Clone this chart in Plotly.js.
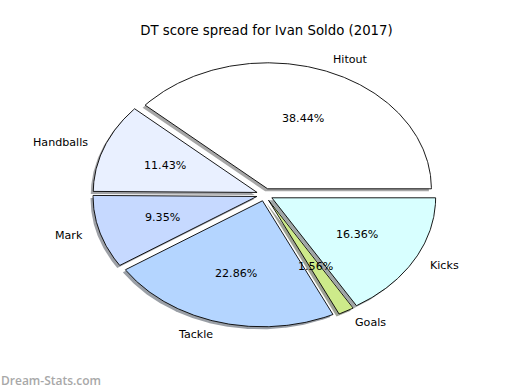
<!DOCTYPE html>
<html>
<head>
<meta charset="utf-8">
<script src="https://cdn.plot.ly/plotly-3.0.1.min.js"></script>
<style>html,body{margin:0;padding:0;background:#fff;}</style>
</head>
<body>
<div id="chart" style="width:520px;height:390px;"></div>
<script>
const labels = ['Hitout', 'Handballs', 'Mark', 'Tackle', 'Goals', 'Kicks'];
const values = [38.44, 11.43, 9.35, 22.86, 1.56, 16.36];
const colors = ['#ffffff', '#e9f0ff', '#c6d9ff', '#b4d5ff', '#cdea8a', '#d8ffff'];
const explode = [0.05, 0.05, 0.05, 0.05, 0.05, 0.05];
const chartTitle = 'DT score spread for Ivan Soldo (2017)';
const watermark = 'Dream-Stats.com';

const FONT = 'DejaVu Sans, sans-serif';
const total = values.reduce((a, b) => a + b, 0);
// pixel scale (for shadow offset conversion)
const SX = 163.8, SY = 126.0;
const shadowDx = -2.5 / SX, shadowDy = -2.5 / SY;

function shade(hex) {
  const r = parseInt(hex.slice(1, 3), 16), g = parseInt(hex.slice(3, 5), 16), b = parseInt(hex.slice(5, 7), 16);
  return 'rgba(' + Math.round(r * 0.3) + ',' + Math.round(g * 0.3) + ',' + Math.round(b * 0.3) + ',0.5)';
}

const wedges = [];
let cum = 0;
values.forEach((v, i) => {
  const t1 = 360 * cum / total;
  cum += v;
  const t2 = 360 * cum / total;
  const mid = (t1 + t2) / 2 * Math.PI / 180;
  const ex = explode[i] * Math.cos(mid), ey = explode[i] * Math.sin(mid);
  const xs = [ex], ys = [ey];
  const n = Math.max(4, Math.ceil((t2 - t1) / 0.5));
  for (let k = 0; k <= n; k++) {
    const a = (t1 + (t2 - t1) * k / n) * Math.PI / 180;
    xs.push(ex + Math.cos(a));
    ys.push(ey + Math.sin(a));
  }
  xs.push(ex); ys.push(ey);
  wedges.push({xs, ys, mid, ex, ey, i});
});

const traces = [];
// shadows first (below all wedges)
wedges.forEach(w => {
  traces.push({
    type: 'scatter', mode: 'lines', fill: 'toself',
    x: w.xs.map(v => v + shadowDx), y: w.ys.map(v => v + shadowDy),
    line: {width: 0, color: 'rgba(0,0,0,0)'},
    fillcolor: shade(colors[w.i]), hoverinfo: 'skip', showlegend: false
  });
});
wedges.forEach(w => {
  traces.push({
    type: 'scatter', mode: 'lines', fill: 'toself',
    x: w.xs, y: w.ys,
    line: {width: 0.9, color: '#000'},
    fillcolor: colors[w.i], name: labels[w.i], hoverinfo: 'skip', showlegend: false
  });
});

const annotations = [];
wedges.forEach(w => {
  const xt = w.ex + 1.1 * Math.cos(w.mid), yt = w.ey + 1.1 * Math.sin(w.mid);
  annotations.push({
    x: xt, y: yt, xref: 'x', yref: 'y', text: labels[w.i], showarrow: false,
    xanchor: xt > 0 ? 'left' : 'right', yanchor: 'middle', borderpad: 0,
    font: {family: FONT, size: 11.1, color: '#000'}
  });
  const xp = w.ex + 0.6 * Math.cos(w.mid), yp = w.ey + 0.6 * Math.sin(w.mid);
  annotations.push({
    x: xp, y: yp, xref: 'x', yref: 'y', text: (100 * values[w.i] / total).toFixed(2) + '%', showarrow: false,
    xanchor: 'center', yanchor: 'middle', borderpad: 0,
    font: {family: FONT, size: 11.1, color: '#000'}
  });
});
annotations.push({
  x: 0, y: 10 / 390, xref: 'paper', yref: 'paper', text: watermark, showarrow: false,
  xanchor: 'left', yanchor: 'middle', borderpad: 0,
  font: {family: 'Open Sans, sans-serif', size: 12, color: '#a8a8a8', weight: 600}
});

const layout = {
  width: 520, height: 390,
  margin: {l: 0, r: 0, t: 0, b: 0},
  paper_bgcolor: '#fff', plot_bgcolor: '#fff',
  showlegend: false, hovermode: false,
  title: {text: chartTitle, x: 266.5 / 520, xref: 'paper', xanchor: 'center', y: 1 - 30 / 390, yref: 'paper', yanchor: 'middle',
          font: {family: FONT, size: 13.3, color: '#000'}},
  xaxis: {range: [-264.7 / SX, (520 - 264.7) / SX], visible: false, fixedrange: true},
  yaxis: {range: [-(390 - 194.7) / SY, 194.7 / SY], visible: false, fixedrange: true},
  annotations: annotations
};

Plotly.newPlot('chart', traces, layout, {displayModeBar: false, staticPlot: true});
</script>
</body>
</html>
